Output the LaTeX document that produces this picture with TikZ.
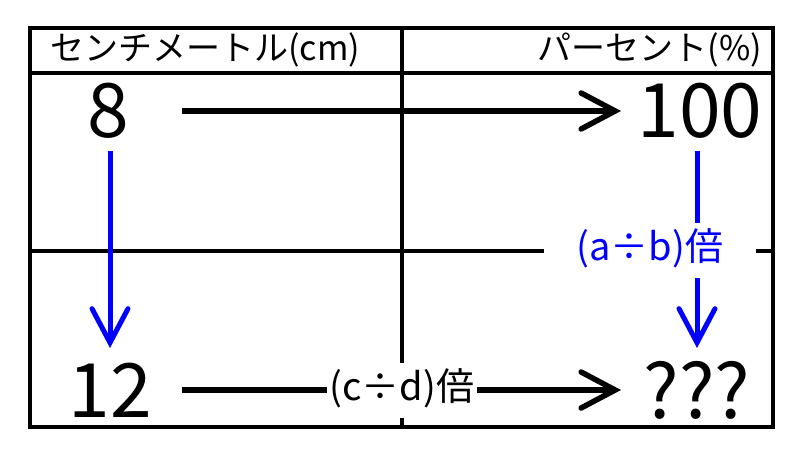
\documentclass[tikz,border=0pt]{standalone}
\usepackage{fontspec}
\setmainfont{Noto Sans CJK JP}
\usetikzlibrary{arrows.meta}
\definecolor{myblue}{RGB}{0,0,255}
\begin{document}
\begin{tikzpicture}[x=1pt,y=-1pt,
  grid/.style={line width=4.5pt},
  big/.style={font=\fontsize{75}{75}\selectfont, inner sep=0pt},
  head/.style={font=\fontsize{34}{34}\selectfont, inner sep=0pt},
  lbl/.style={font=\fontsize{38}{38}\selectfont, fill=white, minimum height=55pt, text height=28pt, text depth=8pt},
  arr/.style={line width=5.5pt, -{Straight Barb[length=34pt,width=36pt,line cap=round]}},
  barr/.style={arr, draw=myblue, line width=5pt}]
\useasboundingbox (0,0) rectangle (800,450);
% table
\draw[grid] (30,28) rectangle (773,427);
\draw[grid] (30,73) -- (773,73);
\draw[grid] (30,251) -- (773,251);
\draw[grid] (402,28) -- (402,427);
% headers
\node[head, anchor=west] (hl) at (50,50) {センチメートル(cm)};
\node[head, anchor=east] (hr) at (762,50) {パーセント(\%)};
% numbers
\node[big] (n8) at (108,111) {8};
\node[big] (n100) at (700,111) {100};
\node[big] (n12) at (110,390) {12};
\node[big] (nq) at (697,390) {???};
% arrow ends
\coordinate (a1) at (182,111);
\coordinate (a2) at (621,111);
\coordinate (b1) at (110,151);
\coordinate (b2) at (110,348);
\coordinate (c1) at (697,151);
\coordinate (c2) at (697,348);
\coordinate (d1) at (182,390);
\coordinate (d2) at (621,390);
% arrows
\draw[arr] (a1) -- (a2);
\draw[barr] (b1) -- (b2);
\draw[barr] (c1) -- (c2);
\draw[arr] (d1) -- (d2);
\node[lbl, inner xsep=3pt] (lcd) at (402,390) {(c÷d)倍};
\node[lbl, text=myblue, inner xsep=33pt] (lab) at (650,250) {(a÷b)倍};
\end{tikzpicture}
\end{document}
